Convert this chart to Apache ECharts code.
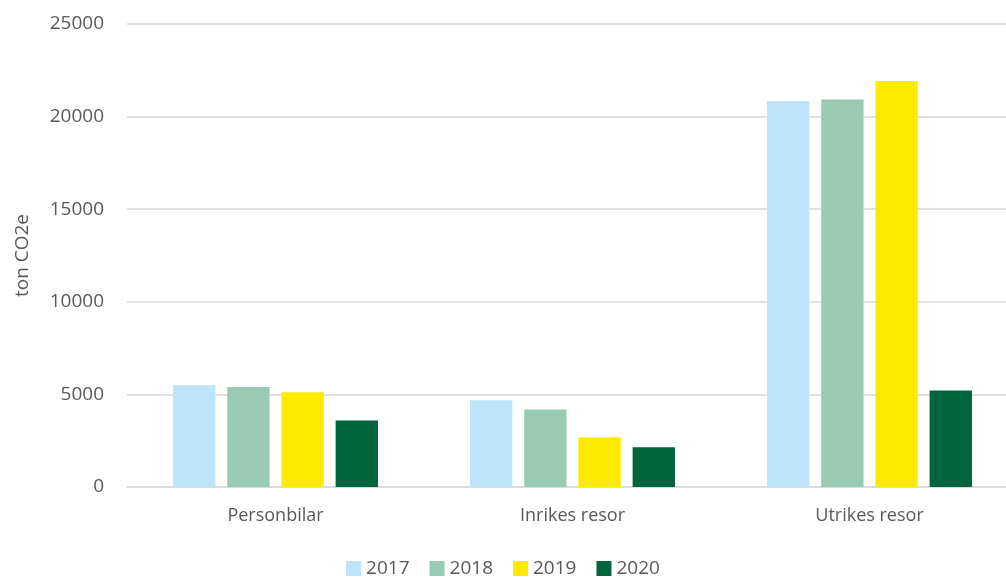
<!DOCTYPE html>
<html>
<head>
<meta charset="utf-8">
<script src="https://cdn.jsdelivr.net/npm/echarts@6/dist/echarts.min.js"></script>
<style>
  html, body { margin: 0; padding: 0; background: #fff; }
  #chart { width: 1006px; height: 579px; }
</style>
</head>
<body>
<div id="chart"></div>
<script>
const categories = ['Personbilar', 'Inrikes resor', 'Utrikes resor']
const years = ['2017', '2018', '2019', '2020']
const values2017 = [5495, 4685, 20840]
const values2018 = [5400, 4180, 20930]
const values2019 = [5115, 2685, 21920]
const values2020 = [3590, 2145, 5210]
const colors = ['#bde4f8', '#99cbb4', '#ffeb00', '#00643c']

const seriesValues = [values2017, values2018, values2019, values2020]
const font = '"Open Sans", "Noto Sans", sans-serif'

const myChart = echarts.init(document.getElementById('chart'))
myChart.setOption({
  animation: false,
  textStyle: { fontFamily: font },
  grid: { left: 127, right: -12, top: 24, bottom: 92, outerBoundsMode: 'none' },
  legend: {
    bottom: -4,
    left: 'center',
    icon: 'rect',
    itemWidth: 15,
    itemHeight: 15,
    itemGap: 20,
    textStyle: { color: '#595959', fontSize: 19, fontFamily: font },
    data: years
  },
  xAxis: {
    type: 'category',
    data: categories,
    axisTick: { show: false },
    axisLine: { lineStyle: { color: '#d9d9d9', width: 1.5 } },
    axisLabel: { color: '#595959', fontSize: 18, margin: 20 }
  },
  yAxis: {
    type: 'value',
    min: 0,
    max: 25000,
    interval: 5000,
    name: 'ton CO2e',
    nameLocation: 'middle',
    nameGap: 95,
    nameRotate: 90,
    nameTextStyle: { color: '#595959', fontSize: 19 },
    axisLabel: { color: '#595959', fontSize: 19, margin: 23, formatter: v => String(v) },
    splitLine: { lineStyle: { color: '#d9d9d9', width: 1.5 } }
  },
  series: years.map((y, i) => ({
    name: y,
    type: 'bar',
    data: seriesValues[i],
    barGap: '28%',
    barCategoryGap: '31%',
    itemStyle: { color: colors[i] }
  }))
})
</script>
</body>
</html>
